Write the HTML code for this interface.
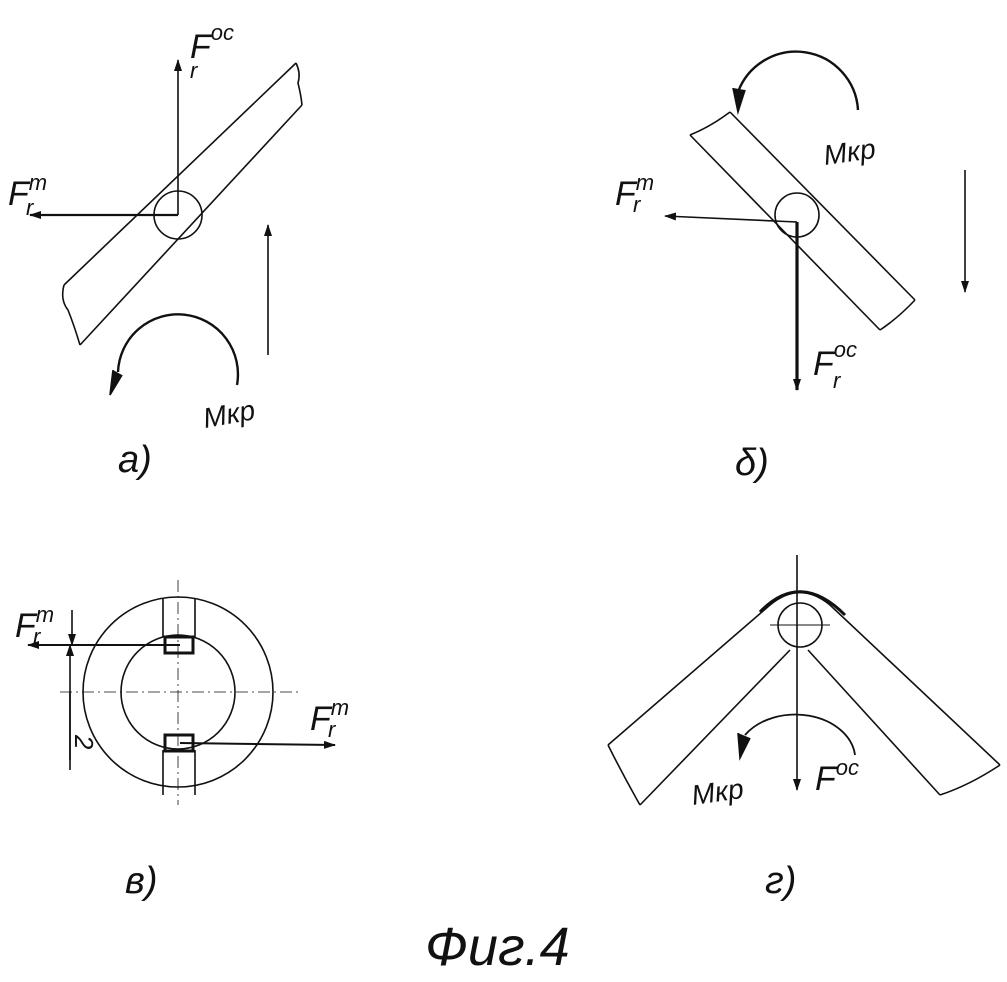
<!DOCTYPE html>
<html><head><meta charset="utf-8"><style>
html,body{margin:0;padding:0;background:#fff;}
svg{display:block}
text{font-family:"Liberation Sans",sans-serif;font-style:italic;fill:#111}
</style></head><body>
<svg width="1007" height="982" viewBox="0 0 1007 982" xmlns="http://www.w3.org/2000/svg">
<defs>
<marker id="ah" markerWidth="12" markerHeight="8" refX="11" refY="4" orient="auto" markerUnits="userSpaceOnUse">
<path d="M0,0 L12,4 L0,8 Z" fill="#111"/></marker>
</defs>
<g stroke="#111" fill="none" stroke-width="1.6">
<!-- Panel a -->
<line x1="64" y1="285" x2="296" y2="63"/>
<line x1="80" y1="345" x2="302" y2="105"/>
<path d="M64,285 q-4,15 4,25 q6,15 12,35"/>
<path d="M296,63 q5,10 2,20 q3,12 4,22"/>
<circle cx="178" cy="215" r="24"/>
<line x1="178" y1="215" x2="178" y2="60" marker-end="url(#ah)"/>
<line x1="178" y1="215" x2="30" y2="215" stroke-width="2.2" marker-end="url(#ah)"/>
<line x1="268" y1="355" x2="268" y2="225" marker-end="url(#ah)"/>
<path d="M237,385 A60,60 0 1 0 118,372" stroke-width="2.4"/>
<path d="M113,370 L110,395 L122,375" fill="#111"/>
<!-- Panel b -->
<line x1="730" y1="112" x2="915" y2="300"/>
<line x1="690" y1="135" x2="880" y2="330"/>
<path d="M690,135 q20,-8 40,-23"/>
<path d="M880,330 q18,-12 35,-30"/>
<circle cx="797" cy="215" r="22"/>
<line x1="797" y1="222" x2="665" y2="216" marker-end="url(#ah)"/>
<line x1="797" y1="222" x2="797" y2="390" stroke-width="3.2" marker-end="url(#ah)"/>
<line x1="965" y1="170" x2="965" y2="292" marker-end="url(#ah)"/>
<path d="M858,110 A62,62 0 0 0 738,92" stroke-width="2.4"/>
<path d="M733,88 L738,112 L745,90" fill="#111"/>
<!-- Panel c -->
<circle cx="178" cy="692" r="95"/>
<circle cx="178" cy="692" r="57"/>
<line x1="178" y1="580" x2="178" y2="805" stroke-width="0.8" stroke-dasharray="12,4,2,4"/>
<line x1="60" y1="692" x2="300" y2="692" stroke-width="0.8" stroke-dasharray="12,4,2,4"/>
<line x1="163" y1="598" x2="163" y2="637"/><line x1="195" y1="598" x2="195" y2="637"/>
<line x1="163" y1="750" x2="163" y2="795"/><line x1="195" y1="750" x2="195" y2="795"/>
<rect x="165" y="637" width="28" height="16" stroke-width="3"/>
<rect x="165" y="735" width="28" height="16" stroke-width="3"/>
<line x1="180" y1="645" x2="28" y2="645" stroke-width="2" marker-end="url(#ah)"/>
<line x1="180" y1="743" x2="335" y2="745" stroke-width="2" marker-end="url(#ah)"/>
<line x1="70" y1="760" x2="70" y2="645" marker-end="url(#ah)"/>
<line x1="70" y1="692" x2="70" y2="770"/>
<line x1="72" y1="610" x2="72" y2="645" marker-end="url(#ah)"/>
<!-- Panel d -->
<path d="M608,745 L770,605 Q800,580 830,605 L1000,765"/>
<path d="M640,805 L790,650 M808,650 L940,795"/>
<path d="M608,745 q15,30 32,60 M1000,765 q-30,20 -60,30"/>
<path d="M760,612 Q800,570 845,615" stroke-width="3"/>
<circle cx="800" cy="625" r="22"/>
<line x1="770" y1="625" x2="830" y2="625" stroke-width="1"/>
<line x1="797" y1="555" x2="797" y2="790" marker-end="url(#ah)"/>
<path d="M855,755 A60,45 0 0 0 745,735" stroke-width="1.8"/>
<path d="M738,733 L740,758 L750,738" fill="#111"/>
</g>
<g font-size="34">
<text x="190" y="58">F<tspan font-size="22" dy="-18">oc</tspan></text>
<text x="190" y="78" font-size="22">r</text>
<text x="8" y="205">F<tspan font-size="22" dy="-15">т</tspan></text>
<text x="26" y="215" font-size="22">r</text>
<text x="205" y="428" font-size="28" transform="rotate(-10 205 428)">Mкр</text>
<text x="118" y="472" font-size="38">a)</text>
<text x="615" y="205">F<tspan font-size="22" dy="-15">т</tspan></text>
<text x="633" y="212" font-size="22">r</text>
<text x="825" y="165" font-size="28" transform="rotate(-8 825 165)">Mкр</text>
<text x="813" y="375">F<tspan font-size="22" dy="-18">oc</tspan></text>
<text x="833" y="388" font-size="22">r</text>
<text x="735" y="475" font-size="38">δ)</text>
<text x="15" y="637">F<tspan font-size="22" dy="-15">т</tspan></text>
<text x="33" y="644" font-size="22">r</text>
<text x="310" y="730">F<tspan font-size="22" dy="-15">т</tspan></text>
<text x="328" y="737" font-size="22">r</text>
<text x="60" y="740" font-size="26" transform="rotate(90 70 745)">2</text>
<text x="125" y="893" font-size="38">в)</text>
<text x="815" y="790">F<tspan font-size="22" dy="-15">oc</tspan></text>
<text x="693" y="805" font-size="28" transform="rotate(-8 693 805)">Mкр</text>
<text x="765" y="893" font-size="38">г)</text>
<text x="425" y="965" font-size="54">Фиг.4</text>
</g>
</svg>
</body></html>
